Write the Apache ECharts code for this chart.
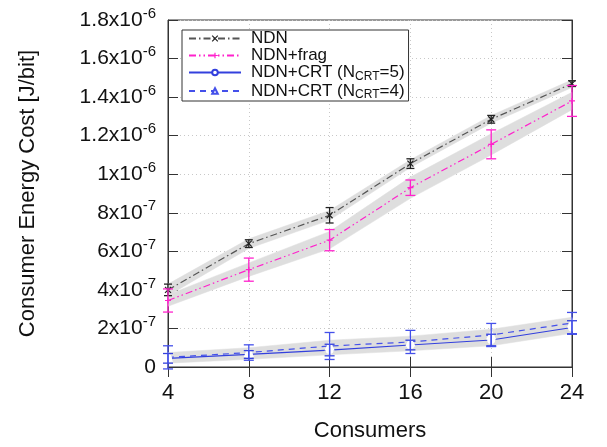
<!DOCTYPE html>
<html><head><meta charset="utf-8">
<script src="https://cdn.jsdelivr.net/npm/echarts@6/dist/echarts.min.js"></script>
<style>html,body{margin:0;padding:0;background:#fff}#c{width:607px;height:447px}</style>
</head><body><div id="c"></div>
<script>
const consumers = [4, 8, 12, 16, 20, 24];
const xTicks = [4, 8, 12, 16, 20, 24];
const yTicks = [0, 2e-7, 4e-7, 6e-7, 8e-7, 1e-6, 1.2e-6, 1.4e-6, 1.6e-6, 1.8e-6];

const ndn      = [4.0e-7, 6.4e-7, 7.87e-7, 1.055e-6, 1.285e-6, 1.47e-6];
const ndnErr   = [0.3e-7, 0.2e-7, 0.4e-7, 0.25e-7, 0.2e-7, 0.15e-7];
const ndnBand  = [0.3e-7, 0.25e-7, 0.25e-7, 0.2e-7, 0.2e-7, 0.2e-7];

const frag     = [3.45e-7, 5.05e-7, 6.58e-7, 9.3e-7, 1.155e-6, 1.38e-6];
const fragErr  = [0.6e-7, 0.6e-7, 0.55e-7, 0.4e-7, 0.75e-7, 0.8e-7];
const fragBand = [0.3e-7, 0.35e-7, 0.45e-7, 0.55e-7, 0.55e-7, 0.45e-7];

const crt5     = [4.5e-8, 6.5e-8, 8.8e-8, 1.14e-7, 1.4e-7, 2.05e-7];
const crt5Err  = [0.25e-7, 0.2e-7, 0.3e-7, 0.25e-7, 0.3e-7, 0.35e-7];
const crt5Band = [0.25e-7, 0.25e-7, 0.25e-7, 0.3e-7, 0.3e-7, 0.3e-7];

const crt4     = [5.0e-8, 7.5e-8, 1.09e-7, 1.3e-7, 1.66e-7, 2.28e-7];
const crt4Err  = [0.6e-7, 0.4e-7, 0.7e-7, 0.6e-7, 0.6e-7, 0.55e-7];
const crt4Band = [0.25e-7, 0.25e-7, 0.3e-7, 0.3e-7, 0.3e-7, 0.3e-7];

const names = ['NDN', 'NDN+frag', 'NDN+CRT (NCRT=5)', 'NDN+CRT (NCRT=4)'];

const FONT = 'Liberation Sans';
const GREY = '#555555', MAG = '#ff22cc', BLUE = '#3340dd', BLUE2 = '#4450ea';
const legendColors = ['#222', MAG, BLUE, BLUE2];

function pairs(vals) { return consumers.map((x, i) => [x, vals[i]]); }

function bandSeries(vals, half) {
  const data = [];
  for (let i = 0; i < consumers.length - 1; i++) {
    data.push([consumers[i], vals[i] - half[i], vals[i] + half[i],
               consumers[i + 1], vals[i + 1] - half[i + 1], vals[i + 1] + half[i + 1]]);
  }
  return {
    type: 'custom', z: 1, silent: true, data: data,
    renderItem: function (p, api) {
      const a = api.coord([api.value(0), api.value(1)]);
      const b = api.coord([api.value(0), api.value(2)]);
      const c = api.coord([api.value(3), api.value(4)]);
      const d = api.coord([api.value(3), api.value(5)]);
      return { type: 'polygon', shape: { points: [a, c, d, b] },
               style: { fill: '#dedede', stroke: '#dedede', lineWidth: 0.5 } };
    }
  };
}

function errSeries(vals, err, color, cap) {
  return {
    type: 'custom', z: 4, silent: true,
    data: consumers.map((x, i) => [x, vals[i] - err[i], vals[i] + err[i]]),
    renderItem: function (p, api) {
      const lo = api.coord([api.value(0), api.value(1)]);
      const hi = api.coord([api.value(0), api.value(2)]);
      const st = { stroke: color, lineWidth: 1.3 };
      return { type: 'group', children: [
        { type: 'line', shape: { x1: lo[0], y1: lo[1], x2: hi[0], y2: hi[1] }, style: st },
        { type: 'line', shape: { x1: lo[0] - cap, y1: lo[1], x2: lo[0] + cap, y2: lo[1] }, style: st },
        { type: 'line', shape: { x1: hi[0] - cap, y1: hi[1], x2: hi[0] + cap, y2: hi[1] }, style: st }
      ]};
    }
  };
}

function lineSeries(name, vals, color, dash, symbol, size, fill, border) {
  return {
    name: name, type: 'line', z: 3, data: pairs(vals),
    symbol: symbol, symbolSize: size, showAllSymbol: true,
    lineStyle: { color: color, width: 1.2, type: dash },
    itemStyle: { color: fill, borderColor: border, borderWidth: 1.2 },
    emphasis: { disabled: true }
  };
}

function expLabel(v) {
  if (v === 0) return '{b|0}';
  const e = Math.floor(Math.log10(v) + 1e-9);
  const m = Math.round(v / Math.pow(10, e) * 10) / 10;
  return '{b|' + m + 'x10}{s|' + e + '}';
}

const legendLabel = function (n) {
  const m = n.match(/^(.*)\(NCRT(=\d)\)$/);
  if (m) return '{a|' + m[1] + '(N}{sub|CRT}{a|' + m[2] + ')}';
  return '{a|' + n + '}';
};

const chart = echarts.init(document.getElementById('c'));
const ticks = { show: true, inside: true, length: 10, lineStyle: { color: '#333' } };
chart.setOption({
  animation: false,
  backgroundColor: '#fff',
  textStyle: { fontFamily: FONT },
  grid: { left: 168, right: 35, top: 20, bottom: 80, show: true, borderColor: '#333', borderWidth: 1 },
  legend: {
    data: names.map((n, i) => ({ name: n, itemStyle: { color: legendColors[i], borderColor: legendColors[i], borderWidth: 1.2 } })),
    orient: 'vertical', left: 182, top: 30,
    backgroundColor: '#fff', borderColor: '#333', borderWidth: 1,
    padding: [0, 4, 0, 6], itemGap: 0, itemWidth: 52, itemHeight: 7,
    formatter: legendLabel,
    textStyle: {
      fontFamily: FONT, color: '#111', padding: [0, 0, 0, 5],
      rich: {
        a: { fontSize: 17, lineHeight: 20, fontFamily: FONT, color: '#111' },
        sub: { fontSize: 12, lineHeight: 20, fontFamily: FONT, color: '#111', verticalAlign: 'bottom', padding: [6, 0, 0, 0] }
      }
    }
  },
  xAxis: [{
    type: 'value', min: 4, max: 24, interval: 4,
    name: 'Consumers', nameLocation: 'middle', nameGap: 53,
    nameTextStyle: { fontSize: 22, color: '#111', fontFamily: FONT },
    axisLine: { show: true, lineStyle: { color: '#333' } },
    axisTick: ticks,
    axisLabel: { fontSize: 22, color: '#111', margin: 15, fontFamily: FONT,
      formatter: v => xTicks.indexOf(v) >= 0 ? String(v) : '' },
    splitLine: { show: true, lineStyle: { color: '#c8c8c8', type: [1, 3] } }
  }, {
    type: 'value', position: 'top', min: 4, max: 24, interval: 4,
    axisLine: { show: true, lineStyle: { color: '#333' } },
    axisTick: ticks, axisLabel: { show: false }, splitLine: { show: false }
  }],
  yAxis: [{
    type: 'value', min: 0, max: 1.8e-6, interval: 2e-7,
    name: 'Consumer Energy Cost [J/bit]', nameLocation: 'middle', nameGap: 129,
    nameTextStyle: { fontSize: 22, color: '#111', fontFamily: FONT },
    axisLine: { show: true, lineStyle: { color: '#333' } },
    axisTick: ticks,
    axisLabel: {
      margin: 12, color: '#111', fontFamily: FONT,
      formatter: function (v) {
        const best = yTicks.reduce((a, t) => Math.abs(t - v) < Math.abs(a - v) ? t : a, yTicks[0]);
        return expLabel(best);
      },
      rich: {
        b: { fontSize: 21, lineHeight: 28, color: '#111', fontFamily: FONT },
        s: { fontSize: 15, lineHeight: 28, color: '#111', fontFamily: FONT, verticalAlign: 'top', padding: [0, 0, 10, 0] }
      }
    },
    splitLine: { show: true, lineStyle: { color: '#c8c8c8', type: [1, 3] } }
  }, {
    type: 'value', position: 'right', min: 0, max: 1.8e-6, interval: 2e-7,
    axisLine: { show: true, lineStyle: { color: '#333' } },
    axisTick: ticks, axisLabel: { show: false }, splitLine: { show: false }
  }],
  series: [
    bandSeries(ndn, ndnBand),
    bandSeries(frag, fragBand),
    bandSeries(crt5, crt5Band),
    bandSeries(crt4, crt4Band),
    errSeries(ndn, ndnErr, '#222', 4),
    errSeries(frag, fragErr, MAG, 5),
    errSeries(crt5, crt5Err, BLUE, 5),
    errSeries(crt4, crt4Err, BLUE2, 5),
    lineSeries(names[0], ndn, GREY, [7, 3, 1.5, 3], 'path://M0,0L10,10M10,0L0,10', 6, '#222', '#222'),
    lineSeries(names[1], frag, MAG, [7, 3, 1.5, 3, 1.5, 3], 'path://M5,0L5,10M0,5L10,5', 6, MAG, MAG),
    lineSeries(names[2], crt5, BLUE, 'solid', 'emptyCircle', 6, '#fff', BLUE),
    lineSeries(names[3], crt4, BLUE2, [6, 5], 'emptyTriangle', 7, '#fff', BLUE2)
  ]
});
</script></body></html>
